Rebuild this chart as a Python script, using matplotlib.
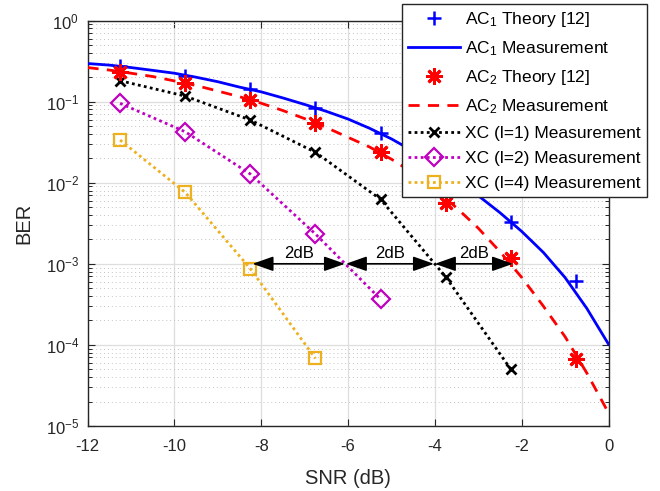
import numpy as np
import matplotlib
matplotlib.use("Agg")
import matplotlib.pyplot as plt

plt.rcParams["font.family"] = ["Liberation Sans", "DejaVu Sans"]
plt.rcParams["mathtext.fontset"] = "custom"
plt.rcParams["mathtext.rm"] = "Liberation Sans"
plt.rcParams["mathtext.it"] = "Liberation Sans:italic"
plt.rcParams["mathtext.bf"] = "Liberation Sans:bold"
plt.rcParams["axes.unicode_minus"] = False

# ── data ──────────────────────────────────────────────────────────────────────
snr_pts = [-11.25, -9.75, -8.25, -6.75, -5.25, -3.75, -2.25, -0.75]

ac1_theory = [0.275, 0.207, 0.143, 0.084, 0.0406, 0.013, 0.0033, 6.2e-4]
ac2_theory = [0.234, 0.168, 0.105, 0.055, 0.0237, 0.00567, 0.00117, 6.7e-5]

snr_curve = [-12, -11.5, -11, -10.5, -10, -9.5, -9, -8.5, -8, -7.5, -7, -6.5,
             -6, -5.5, -5, -4.5, -4, -3.5, -3, -2.5, -2, -1.5, -1, -0.5, 0]
ac1_meas = [0.295, 0.282, 0.263, 0.243, 0.224, 0.200, 0.176, 0.151, 0.132,
            0.111, 0.0923, 0.0759, 0.0610, 0.0468, 0.0347, 0.0245, 0.0166,
            0.0110, 0.00692, 0.00427, 0.00251, 0.00138, 6.76e-4, 2.82e-4,
            1.02e-4]
ac2_meas = [0.263, 0.245, 0.224, 0.204, 0.180, 0.158, 0.135, 0.115, 0.0955,
            0.0776, 0.0617, 0.0479, 0.0363, 0.0275, 0.0195, 0.0132, 0.0083,
            0.0049, 0.00275, 0.00141, 6.8e-4, 3.0e-4, 1.26e-4, 4.5e-5, 1.45e-5]

xc1_meas = [0.181, 0.117, 0.0593, 0.0237, 0.00624, 6.9e-4, 5.0e-5]
xc2_meas = [0.0953, 0.0425, 0.0128, 0.00233, 3.65e-4]
xc4_meas = [0.0336, 0.0076, 8.7e-4, 6.8e-5]

# 2 dB gaps between the XC curves at BER = 1e-3
gap_ber = 1e-3
gap_spans = [(-8.2, -6.07), (-6.05, -4.02), (-4.0, -2.2)]
gap_text = "2dB"

C_BLUE = "#0000ff"
C_RED = "#ff0000"
C_MAG = "#c000c0"
C_ORANGE = "#edb120"

# ── figure ────────────────────────────────────────────────────────────────────
fig = plt.figure(figsize=(6.6, 4.91), dpi=100)
ax = fig.add_axes([0.1326, 0.1324, 0.7894, 0.8258])

ax.plot(snr_pts, ac1_theory, linestyle="none", marker="+", color=C_BLUE,
        markersize=10, markeredgewidth=1.8, label=r"AC$_1$ Theory [12]", zorder=4)
ax.plot(snr_curve, ac1_meas, color=C_BLUE, linewidth=2,
        label=r"AC$_1$ Measurement", zorder=3)
ax.plot(snr_pts, ac2_theory, linestyle="none", marker=(8, 2, 0), color=C_RED,
        markersize=12, markeredgewidth=2, label=r"AC$_2$ Theory [12]", zorder=4)
ax.plot(snr_curve, ac2_meas, color=C_RED, linewidth=2, linestyle=(0, (4, 3)),
        label=r"AC$_2$ Measurement", zorder=3)
ax.plot(snr_pts[:7], xc1_meas, color="black", linestyle=(0, (1, 1.2)),
        linewidth=2, marker="x", markersize=7, markeredgewidth=2,
        label="XC (l=1) Measurement", zorder=3)
ax.plot(snr_pts[:5], xc2_meas, color=C_MAG, linestyle=(0, (1, 1.2)),
        linewidth=2, marker="D", markersize=9, markeredgewidth=1.6,
        markerfacecolor="none", label="XC (l=2) Measurement", zorder=3)
ax.plot(snr_pts[:4], xc4_meas, color=C_ORANGE, linestyle=(0, (1, 1.2)),
        linewidth=2, marker="s", markersize=8, markeredgewidth=1.6,
        markerfacecolor="none", label="XC (l=4) Measurement", zorder=3)

for x0, x1 in gap_spans:
    ax.annotate("", xy=(x1, gap_ber), xytext=(x0, gap_ber),
                arrowprops=dict(arrowstyle="<|-|>,head_length=0.85,head_width=0.3",
                                mutation_scale=15, color="black", lw=1.2,
                                shrinkA=0, shrinkB=0), zorder=5)
    ax.text((x0 + x1) / 2, gap_ber * 1.33, gap_text, ha="center", va="center",
            fontsize=12, color="black", zorder=5)

ax.set_yscale("log")
ax.set_xlim(-12, 0)
ax.set_ylim(1e-5, 1)
ax.set_xticks(np.arange(-12, 1, 2))
ax.set_xlabel("SNR (dB)", fontsize=14.5, color="#262626")
ax.set_ylabel("BER", fontsize=14.5, color="#262626")
ax.xaxis.set_label_coords(0.5, -0.105)
ax.yaxis.set_label_coords(-0.103, 0.5)

ax.grid(True, which="major", color="#dedede", linewidth=0.9, linestyle="-")
ax.grid(True, which="minor", axis="y", color="#c4c4c4", linewidth=0.7,
        linestyle=(0, (1, 3)))
ax.grid(False, which="minor", axis="x")
ax.set_axisbelow(True)

ax.tick_params(which="both", direction="in", top=True, right=True,
               colors="#262626", labelsize=12)
ax.tick_params(which="major", length=5, width=0.8)
ax.tick_params(which="minor", length=3, width=0.7)
ax.tick_params(axis="x", which="major", pad=9.5)
ax.tick_params(axis="y", which="major", pad=6)
for sp in ax.spines.values():
    sp.set_color("#262626")
    sp.set_linewidth(1.0)

leg = ax.legend(loc="upper right", bbox_to_anchor=(0.980, 0.992),
                bbox_transform=fig.transFigure, fontsize=12.5,
                handlelength=3.0, handletextpad=0.3, labelspacing=0.58,
                borderpad=0.35, borderaxespad=0, fancybox=False, framealpha=1,
                edgecolor="#262626")
leg.get_frame().set_linewidth(1.0)
leg.set_zorder(10)

fig.savefig("out.png", dpi=100)
